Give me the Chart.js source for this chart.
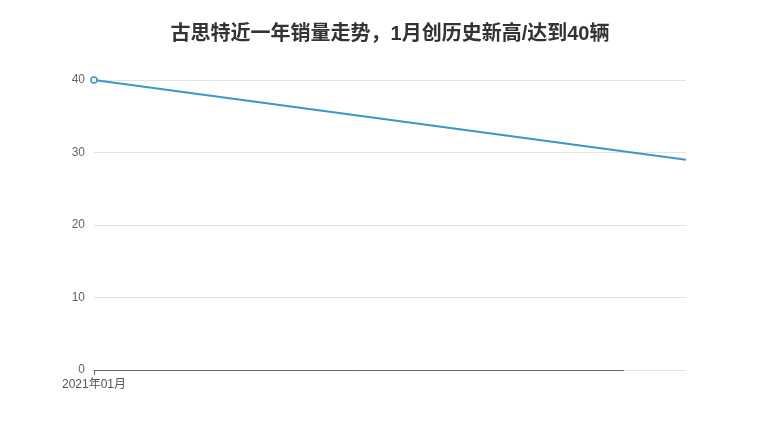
<!DOCTYPE html>
<html>
<head>
<meta charset="utf-8">
<script src="https://cdn.jsdelivr.net/npm/chart.js@4"></script>
<style>
  html, body { margin: 0; padding: 0; background: #fff; }
  #wrap { width: 780px; height: 440px; position: relative; }
</style>
</head>
<body>
<div id="wrap"><canvas id="sales-chart"></canvas></div>
<script>
// data
const months = ['2021年01月', '2021年02月'];
const sales = [40, 29];
const yTicks = [0, 10, 20, 30, 40];
const titleText = '古思特近一年销量走势，1月创历史新高/达到40辆';

const FONT = '"Helvetica Neue", Arial, "Noto Sans CJK SC", sans-serif';

// x baseline stops short of the right edge, like the original
const baseline = {
  id: 'baseline',
  afterDatasetsDraw(chart) {
    const { ctx, chartArea } = chart;
    const y = chart.scales.y.getPixelForValue(0);
    const end = chartArea.left + (chartArea.right - chartArea.left) * 0.895;
    ctx.save();
    ctx.strokeStyle = '#666';
    ctx.lineWidth = 1;
    ctx.beginPath();
    ctx.moveTo(chartArea.left, y + 0.5);
    ctx.lineTo(end, y + 0.5);
    ctx.stroke();
    ctx.restore();
  }
};

new Chart(document.getElementById('sales-chart'), {
  type: 'line',
  data: {
    labels: months,
    datasets: [{
      data: sales,
      clip: false,
      borderColor: '#3c97c8',
      borderWidth: 2,
      backgroundColor: '#fff',
      pointRadius: [3, 0],
      pointBorderWidth: 1.5,
      pointBorderColor: '#3c97c8',
      pointBackgroundColor: '#fff',
      tension: 0,
      fill: false
    }]
  },
  options: {
    responsive: true,
    maintainAspectRatio: false,
    animation: false,
    layout: { padding: 0 },
    plugins: {
      legend: { display: false },
      tooltip: { enabled: false },
      title: {
        display: true,
        text: titleText,
        color: '#333',
        font: { family: FONT, size: 20, weight: 'bold' },
        padding: { top: 22, bottom: 34 }
      }
    },
    scales: {
      x: {
        offset: false,
        border: { display: false },
        grid: {
          drawOnChartArea: false,
          tickLength: 5,
          color: (c) => c.index === 0 ? '#666' : 'rgba(0,0,0,0)'
        },
        ticks: {
          color: '#555',
          font: { family: FONT, size: 12 },
          padding: 2,
          maxRotation: 0,
          autoSkip: false,
          callback: (v, i) => i === 0 ? months[i] : ''
        },
        afterFit: (s) => { s.height = 70; }
      },
      y: {
        min: 0,
        max: 40,
        border: { display: false },
        grid: { color: '#e4e4e4', drawTicks: false },
        afterBuildTicks: (s) => { s.ticks = yTicks.map(v => ({ value: v })); },
        ticks: {
          color: '#666',
          font: { family: FONT, size: 12 },
          padding: 9
        },
        afterFit: (s) => { s.width = 94; }
      },
      // empty right-hand axis keeps the plot narrower while the title stays centred
      yRight: {
        position: 'right',
        min: 0,
        max: 40,
        border: { display: false },
        grid: { drawOnChartArea: false, drawTicks: false },
        ticks: { display: false },
        afterFit: (s) => { s.width = 94; }
      }
    }
  },
  plugins: [baseline]
});
</script>
</body>
</html>
